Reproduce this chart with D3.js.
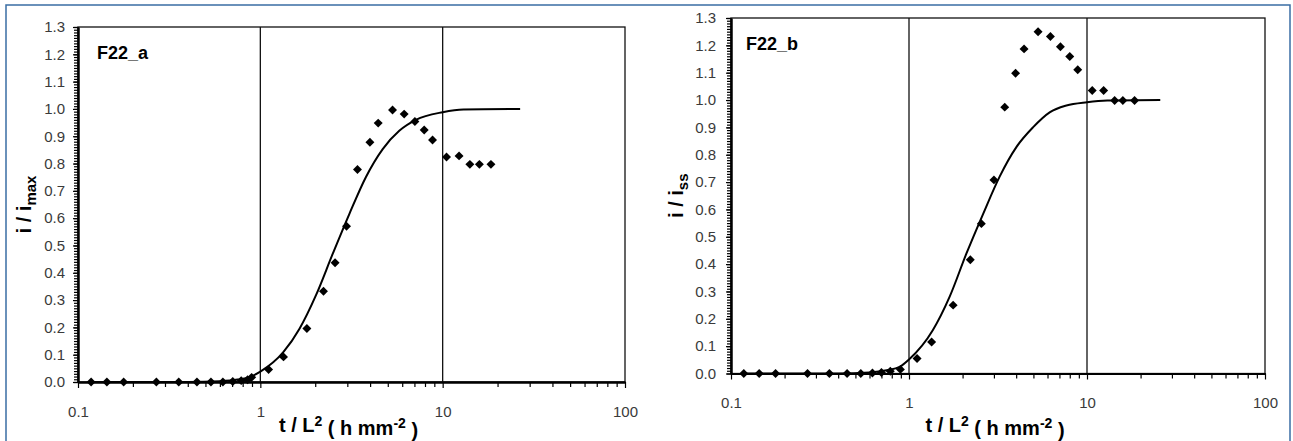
<!DOCTYPE html>
<html>
<head>
<meta charset="utf-8">
<script src="https://cdn.jsdelivr.net/npm/d3@7"></script>
<style>
  body { margin: 0; background: #fff; }
  svg { display: block; }
  text { font-family: Arial, "Liberation Sans", sans-serif; }
</style>
</head>
<body>
<svg id="chart" width="1293" height="441"></svg>
<script>
// measured points, panel a
var aX = [0.118, 0.144, 0.178, 0.269, 0.357, 0.449, 0.536, 0.623, 0.706, 0.785, 0.851, 0.896,
          1.11, 1.34, 1.80, 2.22, 2.57, 2.97, 3.41, 3.99, 4.43, 5.31, 6.15, 7.04, 7.92, 8.80,
          10.5, 12.3, 14.1, 15.9, 18.4]
var aY = [0, 0, 0, 0, 0, 0, 0, 0, 0.002, 0.005, 0.008, 0.017,
          0.046, 0.092, 0.196, 0.332, 0.437, 0.57, 0.778, 0.878, 0.948, 0.996, 0.981, 0.954, 0.923, 0.886,
          0.824, 0.828, 0.797, 0.797, 0.797]
// fitted curve, panel a
var aFitX = [0.118, 0.4, 0.6, 0.75, 0.88, 1.0, 1.34, 1.64, 2.02, 2.49, 3.08, 3.79, 4.69, 5.78, 7.13, 10, 13, 26.6]
var aFitY = [0, 0, 0.003, 0.009, 0.019, 0.038, 0.11, 0.195, 0.318, 0.468, 0.616, 0.75, 0.853, 0.92, 0.96, 0.988, 0.998, 1.0]

// measured points, panel b
var bX = [0.118, 0.144, 0.178, 0.269, 0.357, 0.449, 0.536, 0.623, 0.70, 0.785, 0.895,
          1.11, 1.34, 1.77, 2.21, 2.55, 3.00, 3.45, 3.97, 4.43, 5.31, 6.23, 7.09, 8.0, 8.87,
          10.7, 12.4, 14.3, 15.9, 18.5]
var bY = [0, 0, 0, 0, 0, 0, 0, 0.002, 0.004, 0.008, 0.015,
          0.055, 0.115, 0.25, 0.416, 0.548, 0.708, 0.974, 1.098, 1.187, 1.25, 1.232, 1.195, 1.159, 1.111,
          1.035, 1.035, 0.998, 0.998, 0.998]
// fitted curve, panel b
var bFitX = [0.118, 0.4, 0.6, 0.75, 0.886, 1.0, 1.36, 1.69, 2.10, 2.61, 3.23, 4.01, 4.97, 6.17, 7.66, 10, 13, 25.8]
var bFitY = [0, 0, 0.004, 0.012, 0.024, 0.051, 0.158, 0.28, 0.438, 0.584, 0.72, 0.828, 0.90, 0.955, 0.98, 0.992, 0.998, 1.0]

var xMajor = [0.1, 1, 10, 100]
var xLabels = ["0.1", "1", "10", "100"]
var xGrid = [1, 10]
var yMajor = d3.range(0, 14).map(i => i / 10)
var yLabels = ["0.0", "0.1", "0.2", "0.3", "0.4", "0.5", "0.6", "0.7", "0.8", "0.9", "1.0", "1.1", "1.2", "1.3"]
var yMinor = d3.range(0, 131).map(i => i / 100)
var xMinor = [0.1, 1, 10].flatMap(d => d3.range(2, 10).map(k => k * d))

var panels = [
	{name: "F22_a", sub: "max", px: aX, py: aY, fx: aFitX, fy: aFitY,
	 left: 78, right: 625, top: 27, bottom: 382, titleX: 31, nameDx: 19, yPad: 8},
	{name: "F22_b", sub: "ss", px: bX, py: bY, fx: bFitX, fy: bFitY,
	 left: 731, right: 1265, top: 18, bottom: 373.5, titleX: 683, nameDx: 15, yPad: 10}
]

var svg = d3.select("#chart")

// outer blue frame
svg.append("rect")
	.attr("x", 6).attr("y", 5)
	.attr("width", 1284).attr("height", 450)
	.attr("fill", "none")
	.attr("stroke", "#3a6da4")
	.attr("stroke-width", 1.5)

var diamond = {
	draw(ctx, size) {
		var r = Math.sqrt(size / 2)
		ctx.moveTo(0, -r); ctx.lineTo(r, 0); ctx.lineTo(0, r); ctx.lineTo(-r, 0); ctx.closePath()
	}
}

panels.forEach(function(p) {
	var x = d3.scaleLog().domain([0.1, 100]).range([p.left, p.right])
	var y = d3.scaleLinear().domain([0, 1.3]).range([p.bottom, p.top])
	var g = svg.append("g")

	// top/right frame
	g.append("rect")
		.attr("x", p.left).attr("y", p.top)
		.attr("width", p.right - p.left).attr("height", p.bottom - p.top)
		.attr("fill", "none").attr("stroke", "#111").attr("stroke-width", 1.3)

	// vertical grid at decades
	g.selectAll(".grid").data(xGrid).enter().append("line")
		.attr("x1", d => x(d)).attr("x2", d => x(d))
		.attr("y1", p.top).attr("y2", p.bottom)
		.attr("stroke", "#111").attr("stroke-width", 1.3)

	// y axis: minor + major ticks
	g.append("g")
		.attr("transform", `translate(${p.left},0)`)
		.call(d3.axisLeft(y).tickValues(yMinor).tickSize(4).tickSizeOuter(0).tickFormat(""))
	g.append("g")
		.attr("transform", `translate(${p.left},0)`)
		.call(d3.axisLeft(y).tickValues(yMajor).tickSize(5).tickSizeOuter(0).tickPadding(p.yPad)
			.tickFormat((d, i) => yLabels[i]))

	// x axis: minor + major ticks
	g.append("g")
		.attr("transform", `translate(0,${p.bottom})`)
		.call(d3.axisBottom(x).tickValues(xMinor).tickSize(5).tickSizeOuter(0).tickFormat(""))
	g.append("g")
		.attr("transform", `translate(0,${p.bottom})`)
		.call(d3.axisBottom(x).tickValues(xMajor).tickSize(6).tickSizeOuter(0).tickPadding(18)
			.tickFormat((d, i) => xLabels[i]))

	g.selectAll(".domain").attr("stroke", "#000").attr("stroke-width", 2)
	g.selectAll(".tick line").attr("stroke", "#000").attr("stroke-width", 1.2)
	g.selectAll(".tick text")
		.attr("fill", "#3a3a3a")
		.style("font-size", "15px")
		.style("font-family", "Arial, 'Liberation Sans', sans-serif")

	// fitted curve
	var fit = p.fx.map((d, i) => [d, p.fy[i]])
	g.append("path")
		.datum(fit)
		.attr("fill", "none")
		.attr("stroke", "#000")
		.attr("stroke-width", 2)
		.attr("d", d3.line().x(d => x(d[0])).y(d => y(d[1])).curve(d3.curveMonotoneX))

	// measured points
	var pts = p.px.map((d, i) => [d, p.py[i]])
	g.selectAll(".pt").data(pts).enter().append("path")
		.attr("class", "pt")
		.attr("transform", d => `translate(${x(d[0])},${y(d[1])})`)
		.attr("d", d3.symbol().type(diamond).size(40))
		.attr("fill", "#000")

	// panel label
	g.append("text")
		.attr("x", p.left + p.nameDx).attr("y", p.top + 32)
		.attr("font-weight", "bold").attr("font-size", 18)
		.text(p.name)

	// x title
	var xt = g.append("text")
		.attr("x", (p.left + p.right) / 2 - 3).attr("y", 432)
		.attr("text-anchor", "middle")
		.attr("font-weight", "bold").attr("font-size", 20)
	xt.append("tspan").text("t / L")
	xt.append("tspan").attr("dy", "-0.45em").attr("font-size", 14).text("2")
	xt.append("tspan").attr("dy", "0.45em").text(" ( h mm")
	xt.append("tspan").attr("dy", "-0.45em").attr("font-size", 14).text("-2")
	xt.append("tspan").attr("dy", "0.45em").text(" )")

	// y title
	var yt = g.append("text")
		.attr("transform", `translate(${p.titleX},${(p.top + p.bottom) / 2}) rotate(-90)`)
		.attr("text-anchor", "middle")
		.attr("font-weight", "bold").attr("font-size", 20)
	yt.append("tspan").text("i / i")
	yt.append("tspan").attr("dy", "0.3em").attr("font-size", 15).text(p.sub)
})
</script>
</body>
</html>
